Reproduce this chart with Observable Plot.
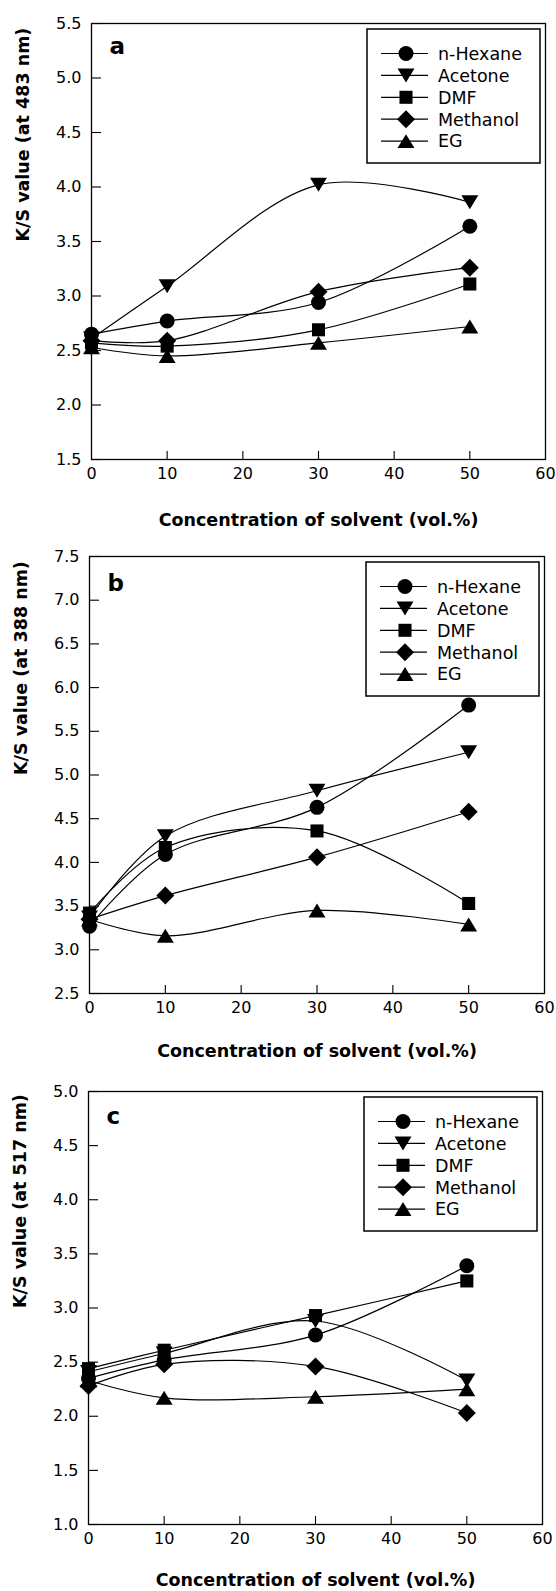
<!DOCTYPE html>
<html><head><meta charset="utf-8">
<script src="https://cdn.jsdelivr.net/npm/d3@7"></script>
<script src="https://cdn.jsdelivr.net/npm/@observablehq/plot@0.6"></script>
<style>
html,body{margin:0;padding:0;background:#fff;}
#chart svg{display:block;}
</style></head><body><div id="chart"></div>
<script>
// ---- data ----
const concentrations = [0, 10, 30, 50];
const solvents = ["n-Hexane", "Acetone", "DMF", "Methanol", "EG"];
const xTicks = [0, 10, 20, 30, 40, 50, 60];

// panel a : K/S at 483 nm
const hexaneA   = [2.65, 2.77, 2.94, 3.64];
const acetoneA  = [2.61, 3.09, 4.02, 3.86];
const dmfA      = [2.57, 2.54, 2.69, 3.11];
const methanolA = [2.59, 2.59, 3.04, 3.26];
const egA       = [2.53, 2.45, 2.57, 2.72];
const yTicksA   = [1.5, 2.0, 2.5, 3.0, 3.5, 4.0, 4.5, 5.0, 5.5];

// panel b : K/S at 388 nm
const hexaneB   = [3.27, 4.09, 4.63, 5.80];
const acetoneB  = [3.37, 4.30, 4.82, 5.26];
const dmfB      = [3.42, 4.17, 4.36, 3.53];
const methanolB = [3.35, 3.62, 4.06, 4.58];
const egB       = [3.35, 3.16, 3.45, 3.29];
const yTicksB   = [2.5, 3.0, 3.5, 4.0, 4.5, 5.0, 5.5, 6.0, 6.5, 7.0, 7.5];

// panel c : K/S at 517 nm
const hexaneC   = [2.35, 2.52, 2.75, 3.39];
const acetoneC  = [2.41, 2.58, 2.88, 2.33];
const dmfC      = [2.44, 2.61, 2.93, 3.25];
const methanolC = [2.28, 2.48, 2.46, 2.03];
const egC       = [2.33, 2.17, 2.18, 2.25];
const yTicksC   = [1.0, 1.5, 2.0, 2.5, 3.0, 3.5, 4.0, 4.5, 5.0];

const xLabel = "Concentration of solvent (vol.%)";

// ---- symbols ----
const symCircle = {draw(c, s){ const r = Math.sqrt(s/Math.PI); c.moveTo(r,0); c.arc(0,0,r,0,2*Math.PI); c.closePath(); }};
const symTriDown = {draw(c, s){ const r = Math.sqrt(s/Math.PI); const w = 1.13*r, h = 0.93*r; c.moveTo(-w,-h); c.lineTo(w,-h); c.lineTo(0,h); c.closePath(); }};
const symSquare = {draw(c, s){ const r = Math.sqrt(s/Math.PI); const a = 0.87*r; c.rect(-a,-a,2*a,2*a); }};
const symDiamond = {draw(c, s){ const r = Math.sqrt(s/Math.PI); const a = 1.2*r; c.moveTo(0,-a); c.lineTo(a,0); c.lineTo(0,a); c.lineTo(-a,0); c.closePath(); }};
const symTriUp = {draw(c, s){ const r = Math.sqrt(s/Math.PI); const w = 1.13*r, h = 0.93*r; c.moveTo(-w,h); c.lineTo(w,h); c.lineTo(0,-h); c.closePath(); }};
const symbols = [symCircle, symTriDown, symSquare, symDiamond, symTriUp];
const R = 7.5;
const FONT = "DejaVu Sans, Verdana, sans-serif";

function legendMark(index, scales, values, dim) {
  const right = dim.width - dim.marginRight - 5;
  const boxW = 173, boxH = 134;
  const left = right - boxW, top = dim.marginTop + 6;
  const g = d3.create("svg:g");
  g.append("rect").attr("x", left).attr("y", top).attr("width", boxW).attr("height", boxH)
    .attr("fill", "white").attr("stroke", "black").attr("stroke-width", 1.5);
  solvents.forEach((s, i) => {
    const cy = top + 24.5 + i * 21.9;
    g.append("line").attr("x1", left + 14).attr("x2", left + 61).attr("y1", cy).attr("y2", cy)
      .attr("stroke", "black").attr("stroke-width", 1.2);
    g.append("path").attr("transform", `translate(${left + 39},${cy})`)
      .attr("d", d3.symbol(symbols[i], Math.PI * R * R)()).attr("fill", "black");
    g.append("text").attr("x", left + 71).attr("y", cy).attr("dy", "0.36em")
      .attr("text-anchor", "start")
      .attr("font-family", FONT).attr("font-size", 17.5).attr("fill", "black").text(s);
  });
  return g.node();
}

function panel(cfg) {
  const W = 556;
  const plotW = W - cfg.ml - cfg.mr;
  const plotH = cfg.height - cfg.mt - cfg.mb;
  const marks = [
    Plot.gridY(cfg.yTicks, {stroke: "black", strokeOpacity: 1, strokeWidth: 1.1, insetRight: plotW - 10}),
    Plot.gridX(xTicks.slice(1, -1), {stroke: "black", strokeOpacity: 1, strokeWidth: 1.1, insetTop: plotH - 8}),
    Plot.axisY({ticks: cfg.yTicks, tickSize: 0, tickPadding: 10, tickFormat: d3.format(".1f"), label: null}),
    Plot.axisX({ticks: xTicks, tickSize: 0, tickPadding: 8, tickFormat: d3.format("d"), label: null}),
    Plot.frame({stroke: "black", strokeWidth: 1.3})
  ];
  cfg.series.forEach((vals, i) => {
    const rows = concentrations.map((c, j) => ({x: c, y: vals[j]}));
    marks.push(Plot.line(rows, {x: "x", y: "y", curve: "catmull-rom", stroke: "black", strokeWidth: 1.2}));
  });
  cfg.series.forEach((vals, i) => {
    const rows = concentrations.map((c, j) => ({x: c, y: vals[j]}));
    marks.push(Plot.dot(rows, {x: "x", y: "y", r: R, symbol: symbols[i], fill: "black", stroke: "none"}));
  });
  marks.push(legendMark);
  marks.push(Plot.text([cfg.letter], {text: d => d, frameAnchor: "top-left", dx: 18, dy: cfg.letterDy,
    textAnchor: "start", lineAnchor: "bottom", fontWeight: "bold", fontSize: 23, fill: "black"}));
  marks.push(Plot.text([xLabel], {text: d => d, frameAnchor: "bottom", dy: cfg.xTitleDy,
    lineAnchor: "middle", fontWeight: "bold", fontSize: 17.5, fill: "black"}));
  marks.push(Plot.text([cfg.yLabel], {text: d => d, frameAnchor: "left", dx: -68, rotate: -90,
    lineAnchor: "middle", fontWeight: "bold", fontSize: 17.5, fill: "black"}));
  return Plot.plot({
    width: W, height: cfg.height,
    marginLeft: cfg.ml, marginRight: cfg.mr, marginTop: cfg.mt, marginBottom: cfg.mb,
    style: {fontFamily: FONT, fontSize: "16px", color: "black", background: "white", overflow: "visible"},
    x: {domain: [0, 60]},
    y: {domain: cfg.yDomain},
    marks
  });
}

const chart = document.getElementById("chart");
chart.append(panel({letter: "a", yLabel: "K/S value (at 483 nm)", yDomain: [1.5, 5.5], yTicks: yTicksA,
  series: [hexaneA, acetoneA, dmfA, methanolA, egA],
  height: 535, ml: 91, mr: 11, mt: 23, mb: 76, letterDy: 30, xTitleDy: 61}));
chart.append(panel({letter: "b", yLabel: "K/S value (at 388 nm)", yDomain: [2.5, 7.5], yTicks: yTicksB,
  series: [hexaneB, acetoneB, dmfB, methanolB, egB],
  height: 533, ml: 89, mr: 12, mt: 21, mb: 75, letterDy: 34, xTitleDy: 58}));
chart.append(panel({letter: "c", yLabel: "K/S value (at 517 nm)", yDomain: [1.0, 5.0], yTicks: yTicksC,
  series: [hexaneC, acetoneC, dmfC, methanolC, egC],
  height: 523, ml: 88, mr: 14, mt: 23, mb: 67, letterDy: 32, xTitleDy: 56}));
</script></body></html>
